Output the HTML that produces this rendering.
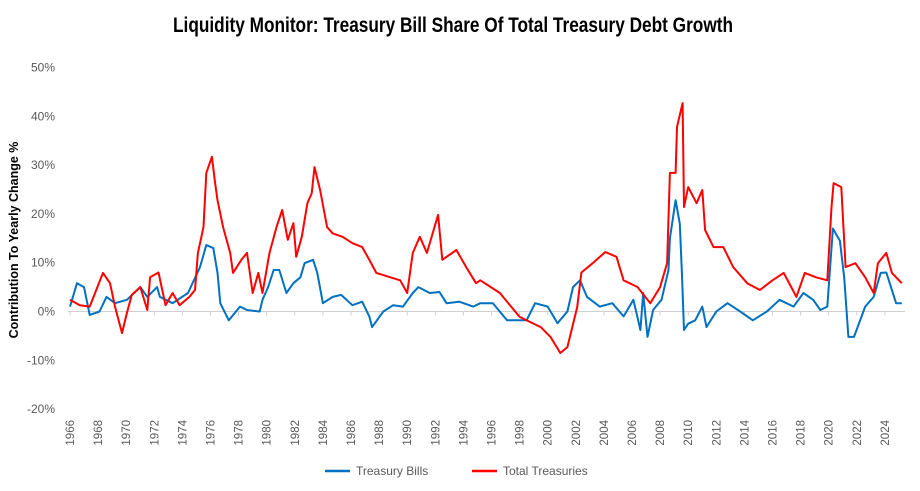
<!DOCTYPE html>
<html><head><meta charset="utf-8"><style>
body{margin:0;background:#fff;}
svg{display:block;font-family:"Liberation Sans",sans-serif;}
</style></head><body>
<svg id="chart" width="920" height="491">
<text x="453" y="32" text-anchor="middle" font-size="21" font-weight="bold" textLength="560" lengthAdjust="spacingAndGlyphs" fill="#000">Liquidity Monitor: Treasury Bill Share Of Total Treasury Debt Growth</text>
<text transform="translate(18,240) rotate(-90)" text-anchor="middle" font-size="12.5" font-weight="bold" fill="#000">Contribution To Yearly Change %</text>
<g id="yt"></g><g id="xt"></g><g id="series"></g>
<g>
<line x1="325" y1="471" x2="350" y2="471" stroke="#0070C0" stroke-width="2.5"/>
<text x="356" y="475" font-size="12" fill="#595959">Treasury Bills</text>
<line x1="472" y1="471" x2="497" y2="471" stroke="#FF0000" stroke-width="2.5"/>
<text x="503" y="475" font-size="12" fill="#595959">Total Treasuries</text>
</g>
</svg>
<script>
const yTicks=[50,40,30,20,10,0,-10,-20];
const years=[1966,1968,1970,1972,1974,1976,1978,1980,1982,1984,1986,1988,1990,1992,1994,1996,1998,2000,2002,2004,2006,2008,2010,2012,2014,2016,2018,2020,2022,2024];
const redT=[1966,1966.7,1967.4,1968.35,1968.85,1969.2,1969.7,1970.05,1970.4,1971,1971.5,1971.7,1972.3,1972.8,1973.3,1973.8,1974.5,1974.9,1975.1,1975.5,1975.7,1976.1,1976.3,1976.5,1976.9,1977.4,1977.6,1978.2,1978.6,1979,1979.4,1979.7,1980.2,1980.7,1981.1,1981.5,1981.9,1982.1,1982.5,1982.9,1983.2,1983.4,1983.8,1984.3,1984.7,1985.4,1986.1,1986.8,1987.3,1987.8,1988.8,1989.5,1990,1990.4,1990.9,1991.4,1992.2,1992.5,1993.5,1994.2,1994.9,1995.2,1996.6,1998,1999.5,2000.2,2000.9,2001.4,2002.1,2002.4,2003.2,2004.1,2004.9,2005.4,2006.4,2007.3,2008,2008.5,2008.7,2009.1,2009.2,2009.6,2009.7,2010,2010.6,2011,2011.2,2011.8,2012.5,2013.2,2014.2,2015.1,2016,2016.8,2017.7,2018.3,2019.1,2019.9,2020.2,2020.35,2020.9,2021.2,2021.9,2022.6,2023.2,2023.5,2024.1,2024.5,2025.2];
const redV=[2.4,1.3,1,7.9,5.8,1,-4.4,-0.3,3.4,5,0.3,7,8,1.3,3.8,1.3,3,4.4,12,17.3,28.4,31.7,27,22.8,17.3,12,7.9,10.6,12,3.8,7.9,3.8,12,17.3,20.8,14.7,18.1,11.2,15.3,22.2,24.2,29.6,24.9,17.3,16,15.3,14,13.2,10.6,7.9,7,6.4,3.8,12,15.3,12,19.8,10.6,12.6,9.1,5.8,6.4,3.8,-1.1,-3.2,-5.2,-8.5,-7.3,0.9,8,9.9,12.2,11.2,6.4,5,1.7,5,9.9,28.4,28.4,37.8,42.7,21.4,25.5,22.2,24.9,16.7,13.2,13.2,9.1,5.8,4.4,6.4,7.9,3,7.9,7,6.4,21.4,26.3,25.5,9.1,9.9,7,3.8,9.9,12,7.9,5.8];
const blueT=[1966,1966.5,1967,1967.4,1968.1,1968.6,1969.2,1970.05,1971,1971.5,1972.2,1972.4,1973.3,1974.4,1975.25,1975.7,1976.2,1976.5,1976.7,1977.3,1978.1,1978.6,1979.5,1979.7,1980.1,1980.5,1980.9,1981.4,1981.9,1982.4,1982.7,1983.3,1983.6,1984,1984.7,1985.3,1986.1,1986.8,1987.3,1987.5,1988.3,1989,1989.7,1990.4,1990.8,1991.6,1992.3,1992.8,1993.7,1994.7,1995.2,1996.1,1997.1,1998.5,1999.1,2000,2000.7,2001.4,2001.8,2002.3,2002.8,2003.7,2004.6,2005.4,2006.1,2006.6,2006.8,2007.1,2007.5,2008.1,2008.6,2008.7,2009.1,2009.4,2009.55,2009.7,2010,2010.5,2011,2011.3,2012,2012.8,2013.7,2014.6,2015.6,2016.5,2017.5,2018.2,2018.9,2019.4,2019.9,2020.3,2020.8,2021.1,2021.4,2021.8,2022.6,2023.2,2023.7,2024.1,2024.8,2025.2];
const blueV=[1,5.8,5,-0.7,0,3,1.7,2.4,5,3,5,3,1.7,3.8,9.1,13.6,13,7.9,1.7,-1.8,1,0.3,0,2.4,5,8.5,8.5,3.8,5.8,7,9.9,10.6,7.9,1.7,3,3.4,1.3,2,-1,-3.2,0,1.3,1,3.8,5,3.8,4,1.7,2,1,1.7,1.7,-1.8,-1.8,1.7,1,-2.4,0,5,6.4,3,1,1.7,-1,2.4,-3.8,3.8,-5.2,0.3,2.4,8.5,15,22.8,18,7.9,-3.8,-2.5,-1.8,1,-3.2,0,1.7,0,-1.8,0,2.4,1,3.8,2.4,0.3,1,17,14.5,7,-5.2,-5.2,1,3,7.9,8,1.7,1.7];
const NS='http://www.w3.org/2000/svg';
const x=t=>70+(t-1966)*14.05;
const y=v=>311.5-v*4.88;
function mk(tag,attrs,parent){const e=document.createElementNS(NS,tag);for(const k in attrs)e.setAttribute(k,attrs[k]);parent.appendChild(e);return e;}
const yt=document.getElementById('yt');
yTicks.forEach(v=>{const t=mk('text',{x:55,y:y(v)+4,'text-anchor':'end','font-size':12,fill:'#595959'},yt);t.textContent=v+'%';

});
const xt=document.getElementById('xt');
const base=mk('line',{x1:68,x2:905,y1:y(0),y2:y(0),stroke:'#d0d0d0','stroke-width':1},xt);


years.forEach(yr=>{mk('line',{x1:x(yr),x2:x(yr),y1:y(0),y2:y(0)+4,stroke:'#d0d0d0'},xt);
const t=mk('text',{transform:`translate(${x(yr)+4},420) rotate(-90)`,'text-anchor':'end','font-size':11.5,fill:'#595959'},xt);t.textContent=yr;

});
const s=document.getElementById('series');
function line(T,V,col,name){const d=T.map((t,i)=>(i?'L':'M')+x(t).toFixed(1)+','+y(V[i]).toFixed(1)).join('');
const p=mk('path',{d:d,fill:'none',stroke:col,'stroke-width':2,'stroke-linejoin':'round'},s);

}
line(blueT,blueV,'#0070C0','treasury-bills-line');
line(redT,redV,'#FF0000','total-treasuries-line');
</script>
</body></html>
